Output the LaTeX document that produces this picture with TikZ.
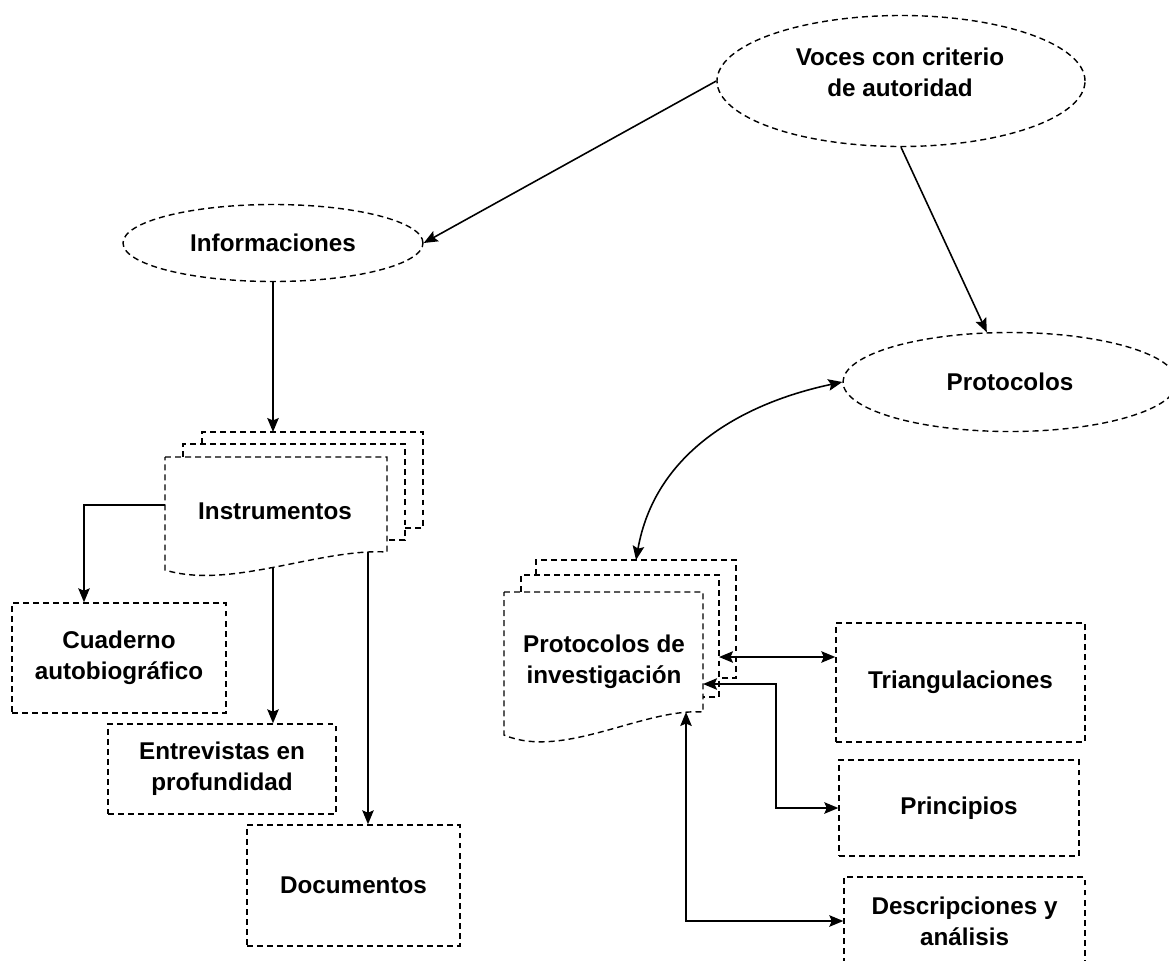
\documentclass[tikz,border=0pt]{standalone}
\usepackage{fontspec}
\setmainfont{Liberation Sans}
\usetikzlibrary{shapes.geometric,arrows.meta}

\tikzset{
  dashline/.style={draw, dash pattern=on 3.4pt off 2.3pt, line width=0.8pt},
  oval/.style={ellipse, dashline, align=center, inner sep=0pt},
  box/.style={rectangle, dashline, align=center},
  tip/.tip={Stealth[length=2.8mm,width=2.3mm,inset=0.5mm]},
  link/.style={line width=0.9pt, -tip},
  twolink/.style={line width=0.9pt, tip-tip}
}

\begin{document}
\begin{tikzpicture}[x=0.2mm,y=-0.2mm,font=\fontsize{13.8}{17.6}\selectfont\bfseries]

        \useasboundingbox (0,0) rectangle (1169,961);
        \clip (0,0) rectangle (1169,961);

        \begin{scope}[every node/.style={oval}]
          \node[minimum width=73.6mm, minimum height=26.2mm] (voces) at (901,81) {};
          \node[minimum width=60mm, minimum height=15.4mm] (infor) at (273,243) {Informaciones};
          \node[minimum width=66.8mm, minimum height=19.8mm] (proto) at (1010,382) {Protocolos};
        \end{scope}
        \node[align=center] (voces-txt) at (900,72) {Voces con criterio\\de autoridad};

        \begin{scope}[every node/.style={box}]
          \node[minimum width=42.8mm, minimum height=22mm] (cuad) at (119,658) {Cuaderno\\autobiográfico};
          \node[minimum width=45.6mm, minimum height=18mm] (entrev) at (222,769) {Entrevistas en\\profundidad};
          \node[minimum width=42.6mm, minimum height=24.2mm] (docs) at (353.5,885.5) {Documentos};
          \node[minimum width=49.8mm, minimum height=23.8mm] (triang) at (960.5,682.5) {Triangulaciones};
          \node[minimum width=48mm, minimum height=19.2mm] (princ) at (959,808) {Principios};
          \node[minimum width=48.2mm, minimum height=17.6mm] (descr) at (964.5,921) {Descripciones y\\análisis};
        \end{scope}

        % pile of documents: Instrumentos
        \draw[dashline] (202,444) -- (202,432) -- (423,432) -- (423,528) -- (405,528);
        \draw[dashline] (183,457) -- (183,444) -- (405,444) -- (405,540) -- (387,540);
        \draw[dashline] (165,457) -- (387,457) -- (387,552)
          .. controls (320,548) and (230,590) .. (165,570) -- cycle;
        \node (instr) at (275,511) {Instrumentos};
        \coordinate (instr-top) at (273,432);
        \coordinate (instr-w) at (165,505);
        \coordinate (instr-b1) at (273,568);
        \coordinate (instr-b2) at (368,552);

        % pile of documents: Protocolos de investigacion
        \draw[dashline] (536,575) -- (536,560) -- (736,560) -- (736,678) -- (719,678);
        \draw[dashline] (521,592) -- (521,575) -- (719,575) -- (719,697) -- (703,697);
        \draw[dashline] (504,592) -- (703,592) -- (703,712)
          .. controls (643,708) and (563,760) .. (504,735) -- cycle;
        \node[align=center] (pinv) at (604,662) {Protocolos de\\investigación};
        \coordinate (pinv-top) at (636,560);
        \coordinate (pinv-r1) at (719,657);
        \coordinate (pinv-r2) at (703,684);
        \coordinate (pinv-b) at (686,712);

        \draw[link] (voces.west) -- (infor.east);
        \draw[link] (voces.south) -- (proto.115);
        \draw[link] (infor.south) -- (instr-top);
        \draw[link] (instr-w) -| ([xshift=-7mm]cuad.north);
        \draw[link] (instr-b1) -- (instr-b1 |- entrev.north);
        \draw[link] (instr-b2) -- (instr-b2 |- docs.north);

        \draw[twolink] (pinv-top) to[out=80,in=192] (proto.west);
        \draw[twolink] (pinv-r1) -- (pinv-r1 -| triang.west);
        \draw[twolink] (pinv-r2) -- ++(73,0) |- (princ.west);
        \draw[twolink] (pinv-b) |- (descr.west);

      \end{tikzpicture}
\end{document}
